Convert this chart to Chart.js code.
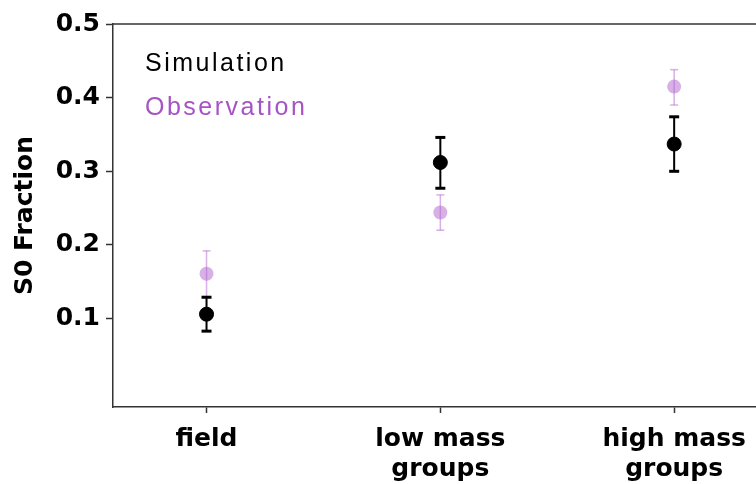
<!DOCTYPE html>
<html>
<head>
<meta charset="utf-8">
<script src="https://cdn.jsdelivr.net/npm/chart.js@4/dist/chart.umd.min.js"></script>
<style>
  html, body { margin: 0; padding: 0; background: #fff; overflow: hidden; }
  /* a bit wider than the window: the plot runs off the right edge like the original */
  #wrap { width: 764px; height: 484px; }
</style>
</head>
<body>
<div id="wrap"><canvas id="S0Chart"></canvas></div>
<script>
const categories = [['field'], ['low mass', 'groups'], ['high mass', 'groups']];
const simValues = [0.106, 0.312, 0.337];
const simLow = [0.083, 0.277, 0.300];
const simHigh = [0.129, 0.346, 0.374];
const obsValues = [0.161, 0.244, 0.415];
const obsLow = [0.130, 0.220, 0.390];
const obsHigh = [0.192, 0.268, 0.438];
const yTicks = [0.1, 0.2, 0.3, 0.4, 0.5];

const simColor = '#000000';
const obsColor = 'rgba(175, 100, 205, 0.5)';
const obsText = '#a654c4';

// points as {x, y}, whiskers broken up with null so each category gets its own segment
const pts = vals => vals.map((v, i) => ({ x: i, y: v }));
const whisk = (lo, hi) => lo.flatMap((v, i) => [{ x: i, y: v }, { x: i, y: hi[i] }, { x: i, y: null }]);

// top frame line and the text legend inside the plot
const framePlugin = {
  id: 'frame',
  afterDraw(chart) {
    const { ctx, chartArea } = chart;
    ctx.save();
    ctx.strokeStyle = '#333';
    ctx.lineWidth = 1.5;
    ctx.beginPath();
    ctx.moveTo(chartArea.left, chartArea.top);
    ctx.lineTo(chartArea.right, chartArea.top);
    ctx.stroke();
    ctx.font = '25px "Liberation Sans", Arial, sans-serif';
    ctx.letterSpacing = '2.5px';
    ctx.textBaseline = 'middle';
    ctx.fillStyle = simColor;
    ctx.fillText(chart.data.datasets[1].label, 145, 64);
    ctx.fillStyle = obsText;
    ctx.fillText(chart.data.datasets[3].label, 145, 108);
    ctx.restore();
  }
};

const tickFont = { family: '"DejaVu Sans", sans-serif', size: 25, weight: 'bold', lineHeight: 1.2 };

new Chart(document.getElementById('S0Chart'), {
  type: 'scatter',
  data: {
    datasets: [
      {
        label: 'Simulation errors',
        data: whisk(simLow, simHigh),
        showLine: true,
        spanGaps: false,
        borderColor: simColor,
        borderWidth: 2,
        pointStyle: 'line',
        pointRadius: 5,
        pointBorderWidth: 3,
        pointBorderColor: simColor,
        order: 2
      },
      {
        label: 'Simulation',
        data: pts(simValues),
        backgroundColor: simColor,
        borderColor: simColor,
        pointRadius: 7,
        order: 1
      },
      {
        label: 'Observation errors',
        data: whisk(obsLow, obsHigh),
        showLine: true,
        spanGaps: false,
        borderColor: obsColor,
        borderWidth: 1.5,
        pointStyle: 'line',
        pointRadius: 4,
        pointBorderWidth: 1.5,
        pointBorderColor: obsColor,
        order: 4
      },
      {
        label: 'Observation',
        data: pts(obsValues),
        backgroundColor: obsColor,
        borderColor: 'rgba(0,0,0,0)',
        pointRadius: 7,
        order: 3
      }
    ]
  },
  options: {
    responsive: true,
    maintainAspectRatio: false,
    animation: false,
    events: [],
    layout: { padding: { top: 24, right: 0, left: 0, bottom: 0 } },
    plugins: { legend: { display: false }, tooltip: { enabled: false } },
    scales: {
      x: {
        type: 'linear',
        min: -0.4,
        max: 2.35,
        afterBuildTicks: s => { s.ticks = categories.map((c, i) => ({ value: i })); },
        afterFit: s => { s.height = 77; },
        border: { display: true, color: '#333', width: 1.5 },
        grid: { drawOnChartArea: false, tickLength: 6, color: '#333', tickWidth: 1.5 },
        ticks: {
          color: '#000',
          font: tickFont,
          padding: 11,
          maxRotation: 0,
          autoSkip: false,
          callback: v => categories[v]
        }
      },
      y: {
        min: -0.02,
        max: 0.5,
        afterBuildTicks: s => { s.ticks = yTicks.map(v => ({ value: v })); },
        afterFit: s => { s.width = 113; },
        border: { display: true, color: '#333', width: 1.5 },
        grid: { drawOnChartArea: false, tickLength: 7, color: '#333', tickWidth: 1.5 },
        ticks: {
          color: '#000',
          font: tickFont,
          padding: 6,
          callback: v => v.toFixed(1)
        },
        title: {
          display: true,
          text: 'S0 Fraction',
          color: '#000',
          font: { family: '"DejaVu Sans", sans-serif', size: 25, weight: 'bold' },
          padding: { top: 10, bottom: 0 }
        }
      }
    }
  },
  plugins: [framePlugin]
});
</script>
</body>
</html>
